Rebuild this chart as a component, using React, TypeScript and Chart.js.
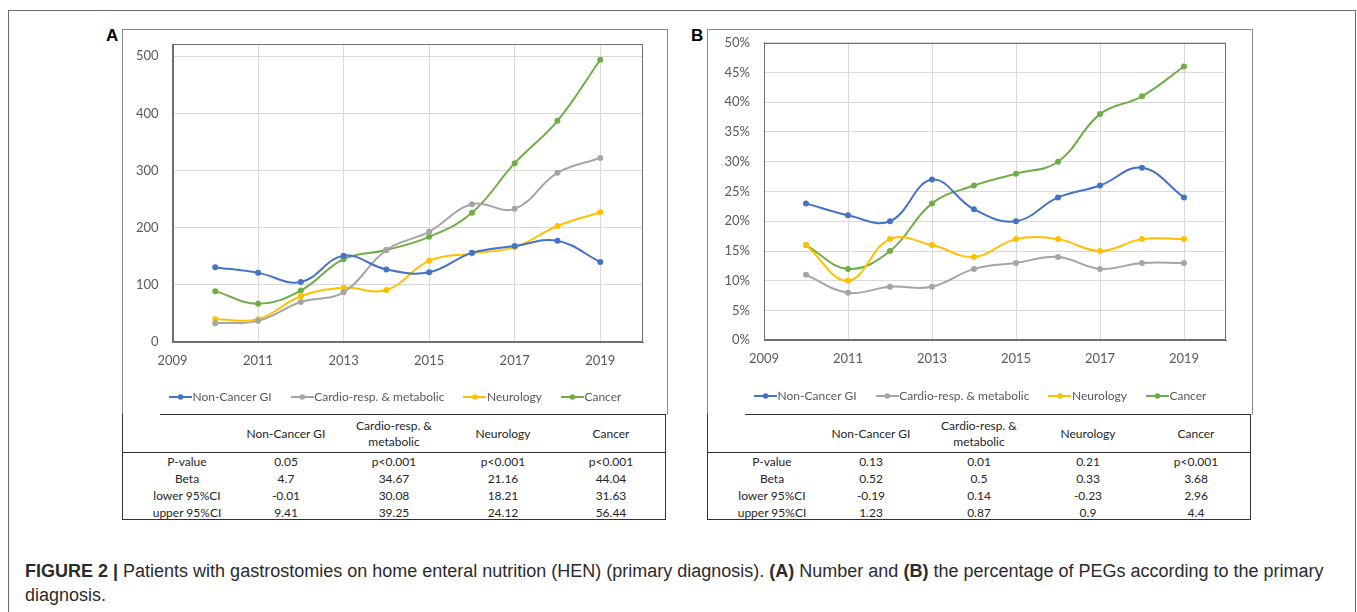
import React, { useEffect, useRef } from 'react';
import { Chart, registerables } from 'chart.js';

Chart.register(...registerables);

// ---------- DATA ----------
const years = [2010, 2011, 2012, 2013, 2014, 2015, 2016, 2017, 2018, 2019];
const seriesNames = ['Non-Cancer GI', 'Cardio-resp. & metabolic', 'Neurology', 'Cancer'];
const seriesColors = ['#4472C4', '#A5A5A5', '#FFC000', '#70AD47'];

// Panel A: number of patients
const countNonCancerGI = [131, 121, 105, 151, 127, 122, 156, 168, 177, 140];
const countCardio = [33, 37, 70, 87, 161, 193, 241, 233, 296, 322];
const countNeurology = [40, 40, 80, 95, 91, 142, 155, 166, 203, 227];
const countCancer = [89, 67, 90, 145, 161, 184, 226, 313, 387, 494];

// Panel B: percentage
const pctNonCancerGI = [23, 21, 20, 27, 22, 20, 24, 26, 29, 24];
const pctCardio = [11, 8, 9, 9, 12, 13, 14, 12, 13, 13];
const pctNeurology = [16, 10, 17, 16, 14, 17, 17, 15, 17, 17];
const pctCancer = [16, 12, 15, 23, 26, 28, 30, 38, 41, 46];

const xTicks = [2009, 2011, 2013, 2015, 2017, 2019];
const yTicksCount = [0, 100, 200, 300, 400, 500];
const yTicksPct = [0, 5, 10, 15, 20, 25, 30, 35, 40, 45, 50];

const tableHeaders = [['Non-Cancer GI'], ['Cardio-resp. &', 'metabolic'], ['Neurology'], ['Cancer']];
const rowLabels = ['P-value', 'Beta', 'lower 95%CI', 'upper 95%CI'];
const tableA = [
  ['0.05', 'p<0.001', 'p<0.001', 'p<0.001'],
  ['4.7', '34.67', '21.16', '44.04'],
  ['-0.01', '30.08', '18.21', '31.63'],
  ['9.41', '39.25', '24.12', '56.44'],
];
const tableB = [
  ['0.13', '0.01', '0.21', 'p<0.001'],
  ['0.52', '0.5', '0.33', '3.68'],
  ['-0.19', '0.14', '-0.23', '2.96'],
  ['1.23', '0.87', '0.9', '4.4'],
];

// ---------- helpers ----------
const FONT = 'Lato, "Open Sans", sans-serif';
const TICK_COLOR = '#595959';
const CLEAR = 'rgba(0,0,0,0)';

function legendIcon(color: string) {
  const c = document.createElement('canvas');
  c.width = 23;
  c.height = 8;
  const ctx = c.getContext('2d')!;
  ctx.strokeStyle = color;
  ctx.lineWidth = 2;
  ctx.beginPath();
  ctx.moveTo(0, 4);
  ctx.lineTo(23, 4);
  ctx.stroke();
  ctx.fillStyle = color;
  ctx.beginPath();
  ctx.arc(11.5, 4, 2.8, 0, Math.PI * 2);
  ctx.fill();
  return c;
}

const plotBorder = {
  id: 'plotBorder',
  afterDraw(chart: any) {
    const { ctx, chartArea } = chart;
    ctx.save();
    ctx.strokeStyle = '#6f6f6f';
    ctx.lineWidth = 1;
    const l = Math.round(chartArea.left) + 0.5;
    const t = Math.round(chartArea.top) + 0.5;
    const r = Math.round(chartArea.right) - 0.5;
    const b = Math.round(chartArea.bottom) - 0.5;
    ctx.strokeRect(l, t, r - l, b - t);
    ctx.restore();
  },
};

type PanelProps = {
  series: number[][];
  yMax: number;
  yTicks: number[];
  pct: boolean;
  left: number;
  top: number;
  width: number;
  height: number;
  yAxisW: number;
  rightW: number;
  xAxisH: number;
  pad: { top: number; right: number; bottom: number; left: number };
};

function Panel(p: PanelProps) {
  const ref = useRef<HTMLCanvasElement>(null);
  useEffect(() => {
    const chart = new Chart(ref.current!, {
      type: 'line',
      data: {
        datasets: p.series.map((vals, i) => ({
          label: seriesNames[i],
          data: years.map((yr, j) => ({ x: yr, y: vals[j] })),
          borderColor: seriesColors[i],
          backgroundColor: seriesColors[i],
          pointBackgroundColor: seriesColors[i],
          pointBorderColor: seriesColors[i],
          pointRadius: 3,
          pointBorderWidth: 0,
          borderWidth: 2,
          tension: 0.4,
          fill: false,
          yAxisID: 'y',
        })),
      },
      options: {
        animation: false,
        responsive: false,
        devicePixelRatio: 1,
        layout: { padding: p.pad },
        scales: {
          x: {
            type: 'linear',
            min: 2009,
            max: 2020,
            afterBuildTicks: (s: any) => {
              s.ticks = xTicks.map((v) => ({ value: v }));
            },
            afterFit: (s: any) => {
              s.height = p.xAxisH;
            },
            grid: { color: '#D9D9D9', drawTicks: true, tickLength: 11, tickColor: CLEAR },
            border: { color: '#6f6f6f' },
            ticks: {
              color: TICK_COLOR,
              font: { family: FONT, size: 13 },
              padding: 0,
              autoSkip: false,
              maxRotation: 0,
              callback: (v: any) => String(v),
            },
          },
          y: {
            type: 'linear',
            position: 'left',
            min: 0,
            max: p.yMax,
            afterBuildTicks: (s: any) => {
              s.ticks = p.yTicks.map((v) => ({ value: v }));
            },
            afterFit: (s: any) => {
              s.width = p.yAxisW;
            },
            grid: { color: '#D9D9D9', drawTicks: true, tickLength: 14, tickColor: CLEAR },
            border: { color: '#6f6f6f' },
            ticks: {
              color: TICK_COLOR,
              font: { family: FONT, size: 13 },
              padding: 0,
              callback: (v: any) => (p.pct ? `${v}%` : String(v)),
            },
          },
          yRight: {
            type: 'linear',
            position: 'right',
            min: 0,
            max: 1,
            afterFit: (s: any) => {
              s.width = p.rightW;
            },
            grid: { display: false, drawTicks: false },
            border: { display: false },
            ticks: { display: false, padding: 0 },
          },
        },
        plugins: {
          legend: {
            position: 'bottom',
            labels: {
              usePointStyle: true,
              pointStyleWidth: 12,
              padding: 24.5,
              color: TICK_COLOR,
              font: { family: FONT, size: 12 },
              generateLabels: (chart: any) => {
                const items = (Chart.defaults.plugins.legend.labels as any).generateLabels(chart);
                return items.map((it: any, i: number) => ({ ...it, pointStyle: legendIcon(seriesColors[i]) }));
              },
            },
          },
          tooltip: { enabled: false },
        },
      } as any,
      plugins: [plotBorder],
    });
    return () => chart.destroy();
  }, []);
  return (
    <canvas
      ref={ref}
      width={p.width}
      height={p.height}
      style={{ position: 'absolute', left: p.left, top: p.top, width: p.width, height: p.height }}
    />
  );
}

const colCenters = [65, 164, 272, 381, 489];

function StatsTable({ left, rows }: { left: number; rows: string[][] }) {
  const top = 414;
  const w = 544;
  const txt: React.CSSProperties = {
    position: 'absolute',
    width: 120,
    textAlign: 'center',
    fontFamily: FONT,
    fontSize: 12,
    color: '#262626',
    lineHeight: '16px',
    whiteSpace: 'nowrap',
  };
  return (
    <div style={{ position: 'absolute', left, top, width: w, height: 107 }}>
      <div style={{ position: 'absolute', left: 38, top: 0, width: w - 38, height: 0, borderTop: '1.5px solid #333' }} />
      <div style={{ position: 'absolute', left: 0, top: 0, width: w - 2, height: 105, borderLeft: '1.5px solid #333', borderRight: '1.5px solid #333', borderBottom: '1.5px solid #333' }} />
      <div style={{ position: 'absolute', left: 0, top: 37.5, width: w, height: 0, borderTop: '1.5px solid #333' }} />
      {tableHeaders.map((h, i) => (
        <div key={'h' + i} style={{ ...txt, left: colCenters[i + 1] - 60, top: h.length > 1 ? 4 : 12 }}>
          {h.map((line, k) => (
            <div key={k}>{line}</div>
          ))}
        </div>
      ))}
      {rowLabels.map((lab, r) => (
        <React.Fragment key={'r' + r}>
          <div style={{ ...txt, left: colCenters[0] - 60, top: 40 + r * 17 }}>{lab}</div>
          {rows[r].map((v, c) => (
            <div key={c} style={{ ...txt, left: colCenters[c + 1] - 60, top: 40 + r * 17 }}>
              {v}
            </div>
          ))}
        </React.Fragment>
      ))}
    </div>
  );
}

export default function App() {
  const panelLetter: React.CSSProperties = {
    position: 'absolute',
    fontFamily: '"Liberation Sans", Arial, sans-serif',
    fontWeight: 'bold',
    fontSize: 17,
    color: '#000',
    lineHeight: '17px',
  };
  return (
    <div style={{ position: 'absolute', left: 0, top: 0, width: 1357, height: 612, background: '#fff', overflow: 'hidden' }}>
      <div style={{ position: 'absolute', left: 8, top: 10, width: 1346, height: 640, border: '1px solid #6a6a6a' }} />
      <div style={{ position: 'absolute', left: 122, top: 29, width: 544, height: 385, borderLeft: '1px solid #8a8a8a', borderTop: '1px solid #8a8a8a', borderRight: '1px solid #8a8a8a' }} />
      <div style={{ position: 'absolute', left: 707, top: 29, width: 544, height: 385, borderLeft: '1px solid #8a8a8a', borderTop: '1px solid #8a8a8a', borderRight: '1px solid #8a8a8a' }} />
      <div style={{ ...panelLetter, left: 106, top: 27 }}>A</div>
      <div style={{ ...panelLetter, left: 691, top: 27 }}>B</div>
      <Panel
        series={[countNonCancerGI, countCardio, countNeurology, countCancer]}
        yMax={521}
        yTicks={yTicksCount}
        pct={false}
        left={122}
        top={29}
        width={545}
        height={385}
        yAxisW={43.5}
        rightW={24}
        xAxisH={24.5}
        pad={{ top: 15.3, right: 0, bottom: 1, left: 7 }}
      />
      <Panel
        series={[pctNonCancerGI, pctCardio, pctNeurology, pctCancer]}
        yMax={50}
        yTicks={yTicksPct}
        pct={true}
        left={707}
        top={29}
        width={545}
        height={385}
        yAxisW={50}
        rightW={26}
        xAxisH={25.2}
        pad={{ top: 13.7, right: 0, bottom: 2, left: 7 }}
      />
      <StatsTable left={122} rows={tableA} />
      <StatsTable left={707} rows={tableB} />
      <div
        style={{
          position: 'absolute',
          left: 25,
          top: 559,
          fontFamily: '"Liberation Sans", Arial, sans-serif',
          fontSize: 18,
          lineHeight: '24px',
          color: '#2b2b2b',
          whiteSpace: 'nowrap',
        }}
      >
        <b>FIGURE 2 |</b> Patients with gastrostomies on home enteral nutrition (HEN) (primary diagnosis). <b>(A)</b> Number and{' '}
        <b>(B)</b> the percentage of PEGs according to the primary
        <br />
        diagnosis.
      </div>
    </div>
  );
}
